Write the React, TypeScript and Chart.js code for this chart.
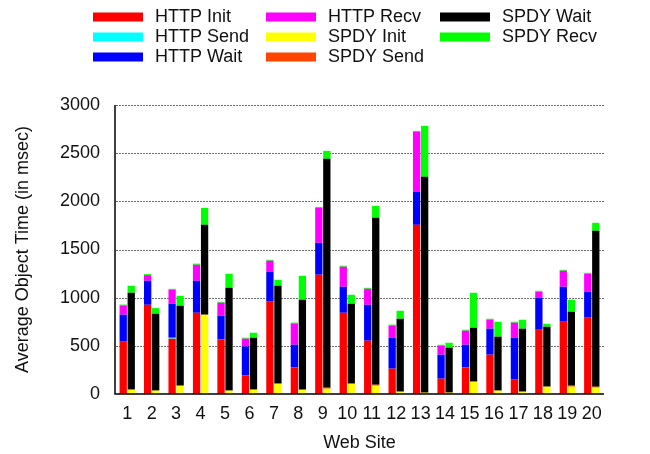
import React, { useEffect, useRef } from "react";
import { Chart, registerables } from "chart.js";

Chart.register(...registerables);

// Web sites 1..20
const sites = ["1","2","3","4","5","6","7","8","9","10","11","12","13","14","15","16","17","18","19","20"];

// HTTP object time components (msec)
const httpInit = [543, 926, 574, 843, 567, 194, 958, 277, 1238, 843, 553, 263, 1756, 159, 277, 408, 149, 667, 750, 792];
const httpSend = [0, 0, 10, 0, 0, 0, 0, 0, 0, 0, 0, 0, 0, 0, 0, 0, 0, 0, 0, 0];
const httpWait = [280, 249, 353, 332, 245, 300, 311, 235, 331, 270, 373, 321, 342, 249, 235, 270, 435, 332, 363, 269];
const httpRecv = [97, 59, 145, 166, 135, 80, 114, 221, 363, 208, 166, 128, 623, 93, 145, 93, 156, 62, 166, 187];
const httpTail = [8, 10, 10, 12, 10, 10, 10, 8, 10, 10, 10, 8, 10, 10, 10, 10, 10, 10, 10, 10];

// SPDY object time components (msec)
const spdyInit = [45, 35, 86, 823, 35, 45, 107, 45, 55, 107, 86, 24, 14, 14, 128, 35, 24, 76, 76, 66];
const spdySend = [0, 0, 0, 0, 0, 0, 0, 0, 11, 0, 11, 0, 0, 0, 0, 0, 0, 0, 10, 10];
const spdyWait = [1006, 798, 830, 933, 1068, 539, 1017, 933, 2375, 830, 1732, 757, 2240, 467, 560, 560, 654, 622, 768, 1618];
const spdyRecv = [73, 59, 104, 176, 145, 52, 62, 249, 83, 93, 124, 83, 529, 51, 363, 155, 93, 31, 124, 83];

const yTicks = [0, 500, 1000, 1500, 2000, 2500, 3000];

const FONT = "'Liberation Sans', Arial, Helvetica, sans-serif";

// Three-column legend drawn above the plot
const columnLegend = {
  id: "columnLegend",
  afterDraw(chart: any) {
    const ctx = chart.ctx;
    const items = chart.data.datasets.filter((d: any) => !d.noLegend);
    const colX = [93, 266, 440];
    const rowY = [17, 37, 57];
    ctx.save();
    ctx.font = `18px ${FONT}`;
    ctx.textBaseline = "middle";
    ctx.textAlign = "left";
    items.forEach((d: any, i: number) => {
      const col = Math.floor(i / 3);
      const row = i % 3;
      const x = colX[col];
      const y = rowY[row];
      ctx.fillStyle = d.backgroundColor;
      ctx.fillRect(x, y - 4.5, 50, 9);
      ctx.fillStyle = "#111";
      ctx.fillText(d.label, x + 62, y + 0.5);
    });
    ctx.restore();
  },
};

// Dotted horizontal grid lines behind the bars
const dottedGrid = {
  id: "dottedGrid",
  beforeDatasetsDraw(chart: any) {
    const { ctx, chartArea } = chart;
    const y = chart.scales.y;
    ctx.save();
    ctx.fillStyle = "#6e6e6e";
    for (const v of yTicks) {
      if (v === 0) continue;
      const py = Math.round(y.getPixelForValue(v));
      for (let x = Math.round(chartArea.left) + 1; x < chartArea.right; x += 3) {
        ctx.fillRect(x, py, 2, 1);
      }
    }
    ctx.restore();
  },
};

// Solid left and bottom axis lines
const axisLines = {
  id: "axisLines",
  afterDatasetsDraw(c: any) {
    const { ctx, chartArea } = c;
    ctx.save();
    ctx.strokeStyle = "#000";
    ctx.lineWidth = 1.5;
    ctx.beginPath();
    ctx.moveTo(chartArea.left, chartArea.top);
    ctx.lineTo(chartArea.left, chartArea.bottom);
    ctx.lineTo(chartArea.right, chartArea.bottom);
    ctx.stroke();
    ctx.restore();
  },
};

export default function App() {
  const canvasRef = useRef<HTMLCanvasElement | null>(null);

  useEffect(() => {
    document.body.style.margin = "0";
    const canvas = canvasRef.current;
    if (!canvas) return;

    const mk = (label: string, data: number[], color: string, stack: string, noLegend = false) => ({
      label,
      data,
      backgroundColor: color,
      borderWidth: 0,
      stack,
      noLegend,
      categoryPercentage: 0.656,
      barPercentage: 0.91,
    });

    const chart = new Chart(canvas, {
      type: "bar",
      data: {
        labels: sites,
        datasets: [
          mk("HTTP Init", httpInit, "#ff0000", "http"),
          mk("HTTP Send", httpSend, "#00ffff", "http"),
          mk("HTTP Wait", httpWait, "#0000ff", "http"),
          mk("HTTP Recv", httpRecv, "#ff00ff", "http"),
          mk("SPDY Init", spdyInit, "#ffff00", "spdy"),
          mk("SPDY Send", spdySend, "#ff4500", "spdy"),
          mk("SPDY Wait", spdyWait, "#000000", "spdy"),
          mk("SPDY Recv", spdyRecv, "#00ff00", "spdy"),
          mk("HTTP Tail", httpTail, "#00ff00", "http", true),
        ] as any,
      },
      options: {
        animation: false,
        responsive: false,
        maintainAspectRatio: false,
        layout: { padding: { top: 105, right: 46, left: 0, bottom: 0 } },
        plugins: {
          legend: { display: false },
          tooltip: { enabled: false },
        },
        scales: {
          x: {
            stacked: true,
            grid: { display: false, drawTicks: false },
            border: { display: false },
            ticks: {
              color: "#111",
              font: { family: FONT, size: 18 },
              padding: 9,
              maxRotation: 0,
              autoSkip: false,
            },
            title: {
              display: true,
              text: "Web Site",
              color: "#111",
              font: { family: FONT, size: 18 },
              padding: { top: 12, bottom: 0 },
            },
            afterFit(scale: any) {
              scale.height = 60;
            },
          },
          y: {
            stacked: true,
            min: 0,
            max: 3000,
            afterBuildTicks(scale: any) {
              scale.ticks = yTicks.map((v) => ({ value: v }));
            },
            grid: { display: false, drawTicks: false },
            border: { display: false },
            ticks: {
              color: "#111",
              font: { family: FONT, size: 18 },
              padding: 15,
              callback: (v: any) => String(v),
            },
            title: {
              display: true,
              text: "Average Object Time (in msec)",
              color: "#111",
              font: { family: FONT, size: 18 },
              padding: { top: 12, bottom: 4 },
            },
            afterFit(scale: any) {
              scale.width = 115;
            },
          },
        },
      },
      plugins: [dottedGrid, axisLines, columnLegend],
    } as any);

    return () => chart.destroy();
  }, []);

  return (
    <div style={{ width: 650, height: 454, position: "relative", background: "#fff" }}>
      <canvas ref={canvasRef} width={650} height={454} style={{ display: "block" }} />
    </div>
  );
}
